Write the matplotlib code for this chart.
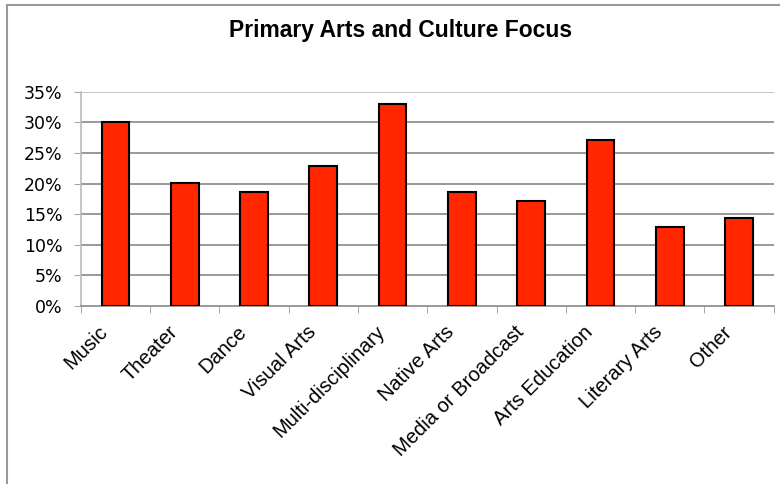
import numpy as np
import matplotlib
matplotlib.use("Agg")
import matplotlib.pyplot as plt
import matplotlib.transforms as mtransforms
from matplotlib.lines import Line2D
from matplotlib.ticker import FuncFormatter, FixedLocator

# Data
categories = ["Music", "Theater", "Dance", "Visual Arts", "Multi-disciplinary",
              "Native Arts", "Media or Broadcast", "Arts Education",
              "Literary Arts", "Other"]
shares = [30.1, 20.1, 18.6, 22.9, 33.0, 18.6, 17.2, 27.1, 12.9, 14.3]
y_ticks = [0, 5, 10, 15, 20, 25, 30, 35]

fig = plt.figure(figsize=(7.8, 4.84), dpi=100)
ax = fig.add_axes([0.1035, 0.3684, 0.8885, 0.4416])

x = np.arange(len(categories))
ax.bar(x, shares, width=0.4, color="#ff2600", edgecolor="black",
       linewidth=1.5, zorder=3)

ax.set_xlim(-0.5, len(categories) - 0.5)
ax.set_ylim(0, 35)
ax.set_yticks(y_ticks)
ax.yaxis.set_major_formatter(FuncFormatter(lambda v, p: "%d%%" % v))
ax.tick_params(axis="y", labelsize=12.5, length=5, color="#aaaaaa", pad=8)

# horizontal gridlines
for v in y_ticks[1:]:
    ax.axhline(v, color="#bbbbbb" if v == 35 else "#888888", lw=1.2, zorder=1)

# category labels at centers, tick marks between categories
ax.set_xticks(x)
ax.set_xticklabels(categories, rotation=45, ha="right", rotation_mode="anchor",
                   fontsize=14.5, family="Liberation Sans")
ax.tick_params(axis="x", length=0, pad=9)
shift = mtransforms.ScaledTranslation(-17 / 100, -4 / 100, fig.dpi_scale_trans)
for lab in ax.get_xticklabels():
    lab.set_transform(lab.get_transform() + shift)
ax.xaxis.set_minor_locator(FixedLocator(np.arange(-0.5, len(categories), 1.0)))
ax.tick_params(axis="x", which="minor", length=5, color="#999999")

for s in ["top", "right"]:
    ax.spines[s].set_visible(False)
ax.spines["left"].set_color("#bbbbbb")
ax.spines["left"].set_linewidth(1.2)
ax.spines["bottom"].set_color("#888888")
ax.spines["bottom"].set_linewidth(1.2)

fig.text(0.513, 0.937, "Primary Arts and Culture Focus", ha="center",
         va="center", fontsize=16.5, fontweight="bold", family="Liberation Sans")

# outer chart frame (cut off at right and bottom)
fig.add_artist(Line2D([0.0095, 0.0095], [0.0, 0.99], color="#999999", lw=1.5))
fig.add_artist(Line2D([0.0095, 1.0], [0.99, 0.99], color="#999999", lw=1.5))

fig.savefig("out.png", dpi=100)
